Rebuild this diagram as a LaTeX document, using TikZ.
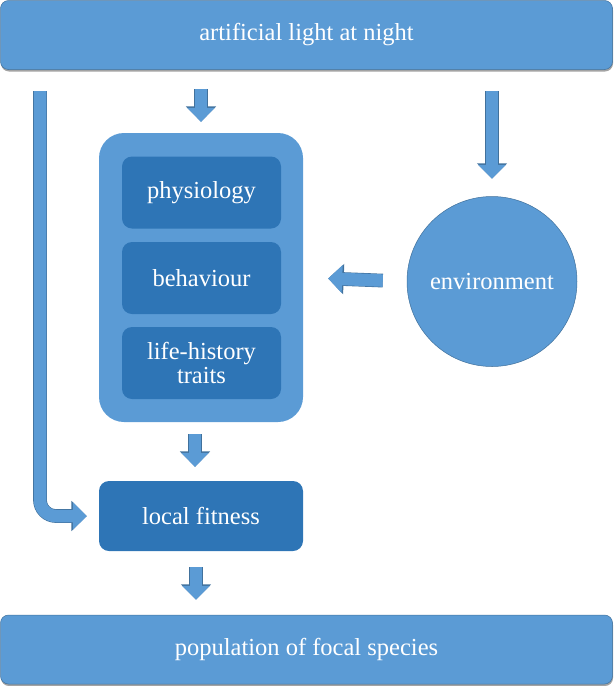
\documentclass[tikz,border=0pt]{standalone}
\usepackage{fontspec}
\setmainfont{Liberation Serif}
\usepackage{tikz}
\usetikzlibrary{calc,arrows.meta,shadows}

\definecolor{lightblue}{HTML}{5B9BD5}
\definecolor{darkblue}{HTML}{2E75B6}
\definecolor{edgeblue}{HTML}{41719C}

\begin{document}
\begin{tikzpicture}[x=1pt,y=-1pt,
	every node/.style={text=white, font=\fontsize{24.5}{24}\selectfont, align=center, inner sep=0pt},
	bar/.style={fill=lightblue, draw=edgeblue, line width=0.5pt, rounded corners=8pt, minimum width=612pt, minimum height=69pt,
		drop shadow={shadow xshift=0.5pt, shadow yshift=-2pt, fill=black!60, opacity=0.6}},
	box/.style={fill=darkblue, rounded corners=10pt, minimum width=159pt, minimum height=72pt},
	flow/.style={line width=12.5pt, lightblue, -{Triangle[width=27pt,length=14pt]},
		preaction={draw=edgeblue, line width=13.7pt, -{Triangle[width=29.5pt,length=15.5pt]}}}]
	\useasboundingbox (0,0) rectangle (614,686);
	\def\xl{40}
	\path (\xl,91) coordinate (lstart);

	\node[bar] (light) at (306.5,35) {artificial light at night};
	\node[fill=lightblue, rounded corners=25pt, minimum width=204pt, minimum height=289pt] (traits) at (201,277.5) {};
	\node[box] (phys) at (201.5,192.5) {physiology};
	\node[box] (behav) at (201.5,278) {behaviour};
	\node[box] (life) at (201.5,363) {life-history\\traits};
	\node[circle, fill=lightblue, draw=edgeblue, line width=0.5pt, minimum size=170pt] (env) at (492,281.5) {environment};
	\node[box, minimum width=204pt, minimum height=70pt] (fitness) at (201,516) {local fitness};
	\node[bar] (pop) at (306.5,649.5) {population of focal species};

	\draw[flow, rounded corners=16pt, shorten >=12pt] (lstart) |- (fitness.west);
	\draw[flow, shorten <=19pt, shorten >=11pt] (light.south -| traits.north) -- (traits.north);
	\draw[flow, shorten <=21pt, shorten >=17.5pt] (light.south -| env.north) -- (env.north);
	\draw[flow, shorten <=24pt, shorten >=25pt] (env.west) -- (traits.east);
	\draw[flow, shorten <=12pt, shorten >=14pt] ($(traits.south)+(-6,0)$) -- ($(fitness.north)+(-6,0)$);
	\draw[flow, shorten <=16pt, shorten >=15pt] ($(fitness.south)+(-5,0)$) -- ($(fitness.south |- pop.north)+(-5,0)$);
\end{tikzpicture}
\end{document}
